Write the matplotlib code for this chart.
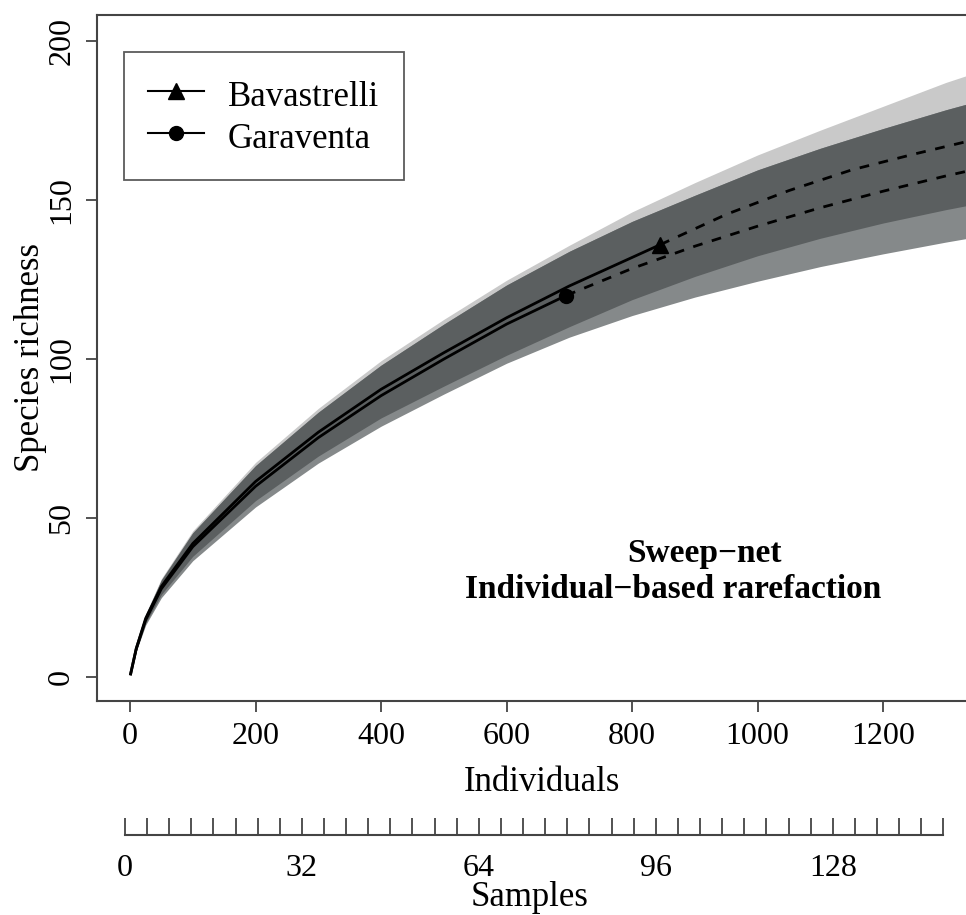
import numpy as np
import matplotlib
matplotlib.use('Agg')
import matplotlib.pyplot as plt

plt.rcParams['font.family'] = ['Liberation Serif', 'DejaVu Serif']

# observed (rarefied) curves
bav_n_obs = [1, 10, 25, 50, 100, 200, 300, 400, 500, 600, 700, 845]
bav_s_obs = [1, 9, 18.5, 28.5, 42, 61.5, 77, 90.5, 102, 113, 123, 136]
gar_n_obs = [1, 10, 25, 50, 100, 200, 300, 400, 500, 600, 695]
gar_s_obs = [1, 9, 18, 27.8, 41, 60, 75.3, 88.5, 100, 111, 120]

# extrapolated curves
bav_n_ext = [845, 950, 1050, 1150, 1250, 1350, 1450]
bav_s_ext = [136, 145.5, 153, 159.5, 164.5, 169.2, 173.5]
gar_n_ext = [695, 800, 900, 1000, 1100, 1200, 1300, 1400]
gar_s_ext = [120, 128.5, 135.5, 141.8, 147.6, 152.8, 157.6, 162]

# confidence bands
band_n = [1, 10, 25, 50, 100, 200, 300, 400, 500, 600, 700, 800, 900, 1000, 1100, 1200, 1300, 1400]
bav_lo = [1, 8.2, 17, 26, 38, 55.5, 69.5, 81.5, 91.5, 101.2, 110.2, 118.7, 126, 132.5, 138, 142.8, 147, 150.8]
bav_hi = [1, 9.8, 20, 31, 46, 67.5, 84.5, 99.5, 112.5, 124.8, 135.8, 146.3, 155.5, 164.2, 172, 179.5, 187, 193.5]
gar_lo = [1, 8.2, 16.4, 25, 36.6, 53.5, 67.3, 78.9, 89, 98.7, 106.9, 113.7, 119.5, 124.5, 129.1, 133.1, 136.8, 140.2]
gar_hi = [1, 9.8, 19.6, 30.6, 45.4, 66.5, 83.3, 98.1, 111, 123.3, 133.9, 143.3, 151.5, 159.5, 166.3, 172.5, 178.4, 183.8]

x_ticks = [0, 200, 400, 600, 800, 1000, 1200]
y_ticks = [0, 50, 100, 150, 200]
sample_ticks = list(range(0, 149, 4))
sample_labels = [0, 32, 64, 96, 128]

fig = plt.figure(figsize=(9.66, 9.15), dpi=100)
ax = fig.add_axes([0.1004, 0.2339, 0.8996, 0.7497])

light = '#c9c9c9'
mid = '#85898a'
dark = '#5b5f60'

ax.fill_between(band_n, bav_lo, bav_hi, color=light, lw=0)
ax.fill_between(band_n, gar_lo, gar_hi, color=mid, lw=0)
ov_lo = np.maximum(bav_lo, gar_lo)
ov_hi = np.minimum(bav_hi, gar_hi)
ax.fill_between(band_n, ov_lo, ov_hi, where=ov_hi >= ov_lo, color=dark, lw=0)

ax.plot(bav_n_obs, bav_s_obs, color='black', lw=2)
ax.plot(gar_n_obs, gar_s_obs, color='black', lw=2)
ax.plot(bav_n_ext, bav_s_ext, color='black', lw=2, ls=(0, (3.5, 3.5)))
ax.plot(gar_n_ext, gar_s_ext, color='black', lw=2, ls=(0, (3.5, 3.5)))
ax.plot(bav_n_obs[-1], bav_s_obs[-1], marker='^', color='black', ms=11, ls='none')
ax.plot(gar_n_obs[-1], gar_s_obs[-1], marker='o', color='black', ms=10, ls='none')

ax.set_xlim(-52.6, 1332)
ax.set_ylim(-7.5, 208.2)
ax.set_xticks(x_ticks)
ax.set_yticks(y_ticks)
ax.set_yticklabels([str(v) for v in y_ticks], rotation=90, va='center')
ax.tick_params(labelsize=23, length=8, width=1.3, color='#444444', pad=7)
for side in ['left', 'bottom', 'top']:
    ax.spines[side].set_linewidth(1.5)
    ax.spines[side].set_color('#444444')
ax.spines['right'].set_visible(False)

ax.set_xlabel('Individuals', fontsize=25)
ax.xaxis.set_label_coords(0.512, -0.095)
ax.set_ylabel('Species richness', fontsize=25, va='center')
ax.yaxis.set_label_coords(-0.077, 0.5)

h1, = ax.plot([], [], color='black', lw=1.5, marker='^', ms=11)
h2, = ax.plot([], [], color='black', lw=1.5, marker='o', ms=10)
leg = ax.legend([h1, h2], ['Bavastrelli', 'Garaventa'], loc='upper left',
                bbox_to_anchor=(0.031, 0.946), borderaxespad=0, fontsize=25,
                frameon=True, fancybox=False, handlelength=1.6, handleheight=1.21,
                handletextpad=0.7, labelspacing=0.13, borderpad=0.7)
leg.get_frame().set_edgecolor('#333333')
leg.get_frame().set_linewidth(1.3)

ax.text(915, 39, 'Sweep\u2212net', fontsize=24, fontweight='bold', ha='center', va='center')
ax.text(865, 27.4, 'Individual\u2212based rarefaction', fontsize=24, fontweight='bold',
        ha='center', va='center')

# samples axis
ax2 = fig.add_axes([0.1004, 0.0874, 0.8996, 0.01])
ax2.set_xlim(-5.06, 152.1)
ax2.set_yticks([])
for side in ['left', 'right', 'top']:
    ax2.spines[side].set_visible(False)
ax2.spines['bottom'].set_bounds(0, 148)
ax2.spines['bottom'].set_linewidth(1.5)
ax2.spines['bottom'].set_color('#444444')
ax2.patch.set_visible(False)
ax2.set_xticks(sample_ticks)
ax2.set_xticklabels([str(t) if t in sample_labels else '' for t in sample_ticks])
ax2.tick_params(axis='x', direction='in', length=12, width=1.3, color='#444444',
                labelsize=23, pad=14)
ax2.set_xlabel('Samples', fontsize=25)
ax2.xaxis.set_label_coords(0.4975, -5.0)

fig.savefig('out.png', dpi=100)
